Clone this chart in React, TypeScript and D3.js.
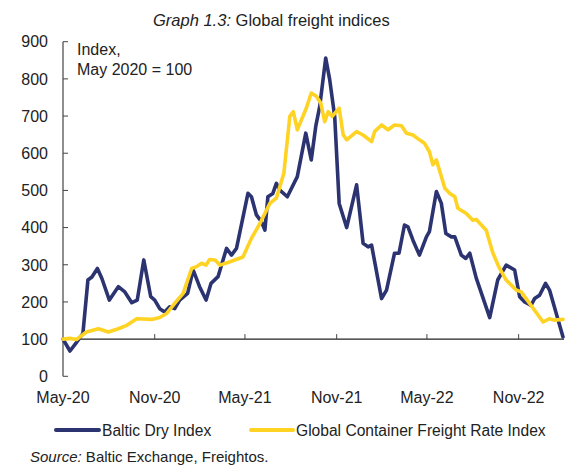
import React from "react";
import * as d3 from "d3";

const bdiDates = [
  "2020-05-01","2020-05-15","2020-05-27","2020-06-10","2020-06-20","2020-06-28","2020-07-09","2020-07-18",
  "2020-08-02","2020-08-20","2020-09-02","2020-09-16","2020-09-27","2020-10-10","2020-10-24","2020-11-01",
  "2020-11-11","2020-11-21","2020-12-01","2020-12-11","2020-12-21","2021-01-06","2021-01-17","2021-01-30",
  "2021-02-12","2021-02-22","2021-03-08","2021-03-25","2021-04-04","2021-04-14","2021-05-07","2021-05-14",
  "2021-05-24","2021-06-03","2021-06-10","2021-06-16","2021-06-26","2021-07-03","2021-07-10","2021-07-25",
  "2021-08-14","2021-08-31","2021-09-11","2021-09-20","2021-09-28","2021-10-10","2021-10-18","2021-10-28",
  "2021-11-06","2021-11-21","2021-12-11","2021-12-24","2022-01-03","2022-01-10","2022-01-30","2022-02-09",
  "2022-02-25","2022-03-06","2022-03-17","2022-03-24","2022-04-03","2022-04-16","2022-04-30","2022-05-06",
  "2022-05-20","2022-05-30","2022-06-08","2022-06-19","2022-06-26","2022-07-09","2022-07-18","2022-07-26",
  "2022-08-08","2022-09-04","2022-09-20","2022-10-07","2022-10-24","2022-11-03","2022-11-13","2022-11-26",
  "2022-12-03","2022-12-13","2022-12-25","2023-01-02","2023-01-29",
];
const bdiValues = [
  100, 68, 89, 116, 259, 267, 290, 263,
  205, 241, 227, 198, 205, 313, 214, 205,
  182, 173, 187, 182, 205, 223, 286, 241,
  205, 250, 268, 344, 326, 344, 492, 483,
  434, 416, 393, 483, 492, 519, 501, 483,
  537, 654, 582, 672, 726, 856, 798, 699,
  465, 400, 515, 358, 348, 353, 209, 232,
  331, 331, 407, 402, 366, 326, 375, 389,
  497, 465, 384, 375, 375, 326, 317, 331,
  264, 158, 259, 299, 286, 214, 200, 191,
  209, 218, 250, 232, 106,
];

const gcfiDates = [
  "2020-05-01","2020-05-15","2020-05-28","2020-06-17","2020-07-11","2020-07-31","2020-08-20","2020-09-06",
  "2020-09-26","2020-10-26","2020-11-11","2020-11-25","2020-12-11","2020-12-28","2021-01-14","2021-01-24",
  "2021-02-03","2021-02-12","2021-02-19","2021-03-02","2021-03-12","2021-04-01","2021-04-27","2021-05-14",
  "2021-05-31","2021-06-20","2021-07-03","2021-07-18","2021-07-30","2021-08-06","2021-08-14","2021-09-01",
  "2021-09-11","2021-09-21","2021-09-30","2021-10-08","2021-10-15","2021-10-23","2021-11-06","2021-11-14",
  "2021-11-21","2021-12-11","2021-12-24","2022-01-10","2022-01-16","2022-01-30","2022-02-12","2022-02-25",
  "2022-03-11","2022-03-21","2022-04-03","2022-04-16","2022-04-26","2022-05-06","2022-05-13","2022-05-20",
  "2022-06-06","2022-06-16","2022-06-26","2022-07-02","2022-07-19","2022-08-01","2022-08-08","2022-08-28",
  "2022-09-10","2022-09-22","2022-10-07","2022-10-27","2022-11-06","2022-11-23","2022-12-20","2023-01-02",
  "2023-01-12","2023-01-29",
];
const gcfiValues = [
  100, 102, 99, 119, 128, 119, 128, 137,
  155, 153, 158, 169, 196, 223, 290, 295,
  304, 299, 314, 313, 299, 308, 321, 371,
  411, 465, 479, 546, 699, 712, 663, 721,
  762, 753, 735, 685, 712, 699, 721, 650,
  636, 658, 649, 631, 658, 676, 663, 676,
  674, 654, 649, 636, 627, 604, 569, 582,
  506, 492, 483, 452, 438, 420, 422, 393,
  333, 295, 259, 232, 227, 196, 146, 155,
  151, 153,
];

const xTickDates = ["2020-05-01","2020-11-01","2021-05-01","2021-11-01","2022-05-01","2022-11-01"];
const xTickLabels = ["May-20","Nov-20","May-21","Nov-21","May-22","Nov-22"];
const yTicks = [0, 100, 200, 300, 400, 500, 600, 700, 800, 900];
const seriesNames = ["Baltic Dry Index", "Global Container Freight Rate Index"];

const NAVY = "#2C3371";
const YELLOW = "#FFD324";
const FONT = "'Liberation Sans', Arial, sans-serif";

const parse = d3.timeParse("%Y-%m-%d");

export default function App() {
  const x = d3
    .scaleTime()
    .domain([parse("2020-05-01")!, parse("2023-01-31")!])
    .range([63, 564]);
  const y = d3.scaleLinear().domain([0, 900]).range([376.3, 41.7]);

  const line = d3
    .line<[Date, number]>()
    .x((d) => x(d[0]))
    .y((d) => y(d[1]))
    .curve(d3.curveLinear);

  const bdi: [Date, number][] = bdiDates.map((d, i) => [parse(d)!, bdiValues[i]]);
  const gcfi: [Date, number][] = gcfiDates.map((d, i) => [parse(d)!, gcfiValues[i]]);

  const axisY = y(100);
  const axisColor = "#444";

  return (
    <svg
      width={571}
      height={466}
      style={{ position: "absolute", left: 0, top: 0, background: "#fff" }}
      fontFamily={FONT}
    >
      <text x={153} y={26} fontSize={16.5} fill="#222">
        <tspan fontStyle="italic">Graph 1.3:</tspan>
        <tspan> Global freight indices</tspan>
      </text>

      {/* y axis */}
      <line x1={63} x2={63} y1={y(900)} y2={y(0)} stroke={axisColor} strokeWidth={1.2} />
      {yTicks.map((t) => (
        <g key={t}>
          <line x1={63} x2={68} y1={y(t)} y2={y(t)} stroke={axisColor} strokeWidth={1} />
          <text x={48} y={y(t)} dy="0.36em" textAnchor="end" fontSize={16} fill="#222">
            {t}
          </text>
        </g>
      ))}

      {/* x axis at 100 */}
      <line x1={63} x2={564} y1={axisY} y2={axisY} stroke="#222" strokeWidth={1.2} />
      {xTickDates.map((d, i) => {
        const xx = x(parse(d)!);
        return (
          <g key={d}>
            {i > 0 && <line x1={xx} x2={xx} y1={axisY} y2={axisY - 5} stroke={axisColor} strokeWidth={1} />}
            <text x={xx} y={403} textAnchor="middle" fontSize={16} fill="#222">
              {xTickLabels[i]}
            </text>
          </g>
        );
      })}

      <text x={77} y={55} fontSize={16} fill="#222">Index,</text>
      <text x={77} y={75} fontSize={16} fill="#222">May 2020 = 100</text>

      <path d={line(bdi) || ""} fill="none" stroke={NAVY} strokeWidth={3.6} strokeLinejoin="round" strokeLinecap="round" />
      <path d={line(gcfi) || ""} fill="none" stroke={YELLOW} strokeWidth={3.6} strokeLinejoin="round" strokeLinecap="round" />

      {/* legend */}
      <line x1={56} x2={99} y1={430} y2={430} stroke={NAVY} strokeWidth={4} strokeLinecap="round" />
      <text x={102} y={436} fontSize={15.6} fill="#222">{seriesNames[0]}</text>
      <line x1={251} x2={293} y1={430} y2={430} stroke={YELLOW} strokeWidth={4} strokeLinecap="round" />
      <text x={296} y={436} fontSize={15.6} fill="#222">{seriesNames[1]}</text>

      <text x={30} y={462} fontSize={15} fill="#222">
        <tspan fontStyle="italic">Source:</tspan>
        <tspan> Baltic Exchange, Freightos.</tspan>
      </text>
    </svg>
  );
}
